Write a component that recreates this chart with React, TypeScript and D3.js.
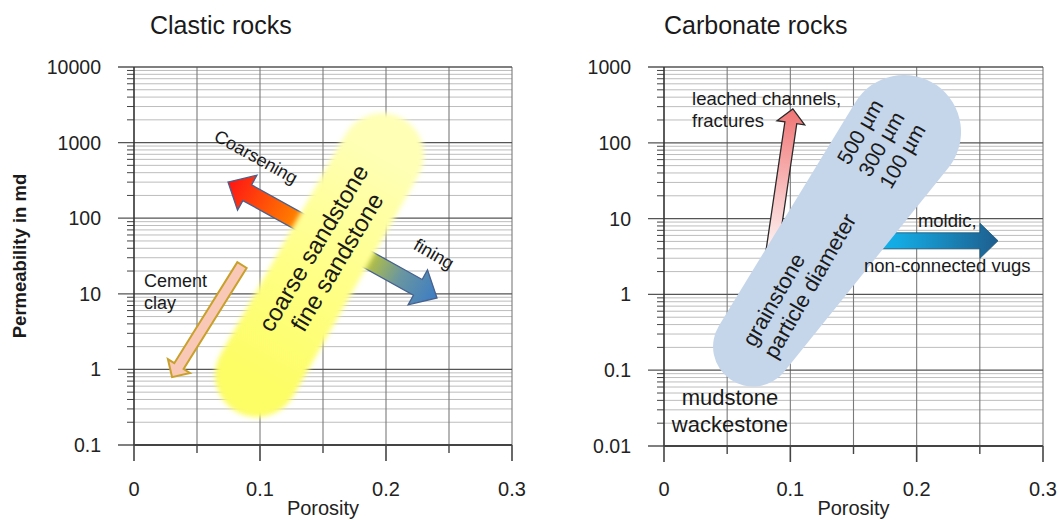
import React from 'react';
import * as d3 from 'd3';

// ---------- data ----------
const porosityMajorTicks = [0, 0.1, 0.2, 0.3];
const porosityMinorTicks = [0.05, 0.15, 0.25];
const porosityTickLabels = ['0', '0.1', '0.2', '0.3'];

const clasticPermTicks = [0.1, 1, 10, 100, 1000, 10000];
const clasticPermLabels = ['0.1', '1', '10', '100', '1000', '10000'];
const carbonatePermTicks = [0.01, 0.1, 1, 10, 100, 1000];
const carbonatePermLabels = ['0.01', '0.1', '1', '10', '100', '1000'];

// clastic annotations: [porosity, permeability md]
const sandstoneBand = [[0.0976, 0.84], [0.1968, 686]];
const grainSizeArrow = [[0.0746, 301], [0.2405, 8.8]]; // coarsening tip -> fining tip
const cementArrow = [[0.0857, 24], [0.0302, 0.79]]; // tail -> tip
const sandstoneLabelPos = [0.1516, 32.6];
const sandstoneLabels = ['coarse sandstone', 'fine sandstone'];
const coarseningPos = [0.0968, 646];
const finingPos = [0.238, 33.6];
const cementPos = [[0.0079, 12.3], [0.0079, 6.3]];
const cementLabels = ['Cement', 'clay'];

// carbonate annotations
const grainstoneBand = [[0.0705, 0.205], [0.19, 139]];
const leachedArrow = [[0.0839, 2.46], [0.102, 280]];
const moldicArrow = [[0.147, 5.1], [0.2644, 5.1]];
const grainstonePos = [0.0665, 0.22];
const grainstoneLabels = ['grainstone', 'particle diameter'];
const diameterPos = [0.1718, 96.8];
const diameterLabels = ['500 µm', '300 µm', '100 µm'];
const leachedPos = [[0.0222, 316], [0.0222, 162]];
const leachedLabels = ['leached channels,', 'fractures'];
const moldicPos = [0.201, 7.8];
const vugsPos = [0.1583, 1.99];
const mudPos = [[0.0522, 0.0352], [0.0522, 0.0155]];
const mudLabels = ['mudstone', 'wackestone'];

const FONT = '"Liberation Sans", Arial, Helvetica, sans-serif';

// ---------- helpers ----------
type P = [number, number];

function arrowPath(a: P, b: P, sw: number, hw: number, hl: number, double: boolean) {
  const dx = b[0] - a[0], dy = b[1] - a[1];
  const L = Math.hypot(dx, dy);
  const ux = dx / L, uy = dy / L, nx = -uy, ny = ux;
  const pt = (s: number, t: number): P => [a[0] + ux * s + nx * t, a[1] + uy * s + ny * t];
  const pts: P[] = double
    ? [pt(0, 0), pt(hl, -hw / 2), pt(hl, -sw / 2), pt(L - hl, -sw / 2), pt(L - hl, -hw / 2), pt(L, 0),
       pt(L - hl, hw / 2), pt(L - hl, sw / 2), pt(hl, sw / 2), pt(hl, hw / 2)]
    : [pt(0, -sw / 2), pt(L - hl, -sw / 2), pt(L - hl, -hw / 2), pt(L, 0), pt(L - hl, hw / 2),
       pt(L - hl, sw / 2), pt(0, sw / 2)];
  return d3.line().curve(d3.curveLinearClosed)(pts) as string;
}

function hullPath(c1: P, r1: number, c2: P, r2: number) {
  const dx = c2[0] - c1[0], dy = c2[1] - c1[1];
  const d = Math.hypot(dx, dy);
  const phi = Math.atan2(dy, dx);
  const al = Math.acos((r1 - r2) / d);
  const at = (c: P, r: number, ang: number): P => [c[0] + r * Math.cos(ang), c[1] + r * Math.sin(ang)];
  const p1a = at(c1, r1, phi + al), p2a = at(c2, r2, phi + al);
  const p2b = at(c2, r2, phi - al), p1b = at(c1, r1, phi - al);
  const large2 = 2 * al > Math.PI ? 1 : 0;
  const large1 = 2 * Math.PI - 2 * al > Math.PI ? 1 : 0;
  return `M${p1a[0]},${p1a[1]}L${p2a[0]},${p2a[1]}A${r2},${r2} 0 ${large2} 0 ${p2b[0]},${p2b[1]}` +
    `L${p1b[0]},${p1b[1]}A${r1},${r1} 0 ${large1} 0 ${p1a[0]},${p1a[1]}Z`;
}

function Grid({ x, y, permTicks, permLabels }: any) {
  const [x0, x1] = x.range();
  const [yb, yt] = y.range();
  const minor: number[] = [];
  for (let i = 0; i < permTicks.length - 1; i++) {
    for (let m = 2; m <= 9; m++) minor.push(permTicks[i] * m);
  }
  const vlines = [...porosityMinorTicks, ...porosityMajorTicks.slice(1)];
  return (
    <g>
      {minor.map((v, i) => (
        <line key={'mn' + i} x1={x0} x2={x1} y1={y(v)} y2={y(v)} stroke="#bdbdbd" strokeWidth={1} />
      ))}
      {vlines.map((v, i) => (
        <line key={'v' + i} x1={x(v)} x2={x(v)} y1={yt} y2={yb} stroke="#7a7a7a" strokeWidth={1.1} />
      ))}
      {permTicks.map((v: number, i: number) => (
        <line key={'mj' + i} x1={x0 - 16} x2={x1} y1={y(v)} y2={y(v)} stroke="#555" strokeWidth={1.3} />
      ))}
      {minor.map((v, i) => (
        <line key={'mt' + i} x1={x0 - 7} x2={x0} y1={y(v)} y2={y(v)} stroke="#444" strokeWidth={1} />
      ))}
      <line x1={x0} x2={x0} y1={yt} y2={yb} stroke="#333" strokeWidth={1.6} />
      <line x1={x0} x2={x1} y1={yb} y2={yb} stroke="#444" strokeWidth={2} />
      {porosityMajorTicks.map((v, i) => (
        <line key={'xt' + i} x1={x(v)} x2={x(v)} y1={yb} y2={yb + 16} stroke="#444" strokeWidth={1.6} />
      ))}
      {porosityMinorTicks.map((v, i) => (
        <line key={'xm' + i} x1={x(v)} x2={x(v)} y1={yb} y2={yb + 8} stroke="#444" strokeWidth={1.4} />
      ))}
      {porosityMajorTicks.map((v, i) => (
        <text key={'xl' + i} x={x(v)} y={496} textAnchor="middle" fontSize={20} fill="#222" fontFamily={FONT}>
          {porosityTickLabels[i]}
        </text>
      ))}
      {permTicks.map((v: number, i: number) => (
        <text key={'yl' + i} x={x0 - 33} y={y(v) + 7} textAnchor="end" fontSize={19.5} fill="#222" fontFamily={FONT}>
          {permLabels[i]}
        </text>
      ))}
      <text x={(x0 + x1) / 2} y={515} textAnchor="middle" fontSize={20} fill="#222" fontFamily={FONT}>Porosity</text>
    </g>
  );
}

function RotLines({ pos, angle, lines, size, lh, anchor, centered }: any) {
  const n = lines.length;
  return (
    <g transform={`translate(${pos[0]},${pos[1]}) rotate(${angle})`}>
      {lines.map((s: string, i: number) => (
        <text key={i} x={0} y={(centered ? i - (n - 1) / 2 : i) * lh} textAnchor={anchor}
          dominantBaseline="central" fontSize={size} fill="#1a1a1a" fontFamily={FONT}>{s}</text>
      ))}
    </g>
  );
}

export default function App() {
  const xL = d3.scaleLinear().domain([0, 0.3]).range([134, 512]);
  const yL = d3.scaleLog().domain([0.1, 10000]).range([445, 67]);
  const xR = d3.scaleLinear().domain([0, 0.3]).range([664, 1043]);
  const yR = d3.scaleLog().domain([0.01, 1000]).range([446, 67]);

  const pL = (d: number[]): P => [xL(d[0]), yL(d[1])];
  const pR = (d: number[]): P => [xR(d[0]), yR(d[1])];

  const sb1 = pL(sandstoneBand[0]), sb2 = pL(sandstoneBand[1]);
  const ga = pL(grainSizeArrow[0]), gb = pL(grainSizeArrow[1]);
  const ca = pL(cementArrow[0]), cb = pL(cementArrow[1]);
  const gs1 = pR(grainstoneBand[0]), gs2 = pR(grainstoneBand[1]);
  const la = pR(leachedArrow[0]), lb = pR(leachedArrow[1]);
  const ma = pR(moldicArrow[0]), mb = pR(moldicArrow[1]);

  return (
    <svg width={1060} height={520} style={{ position: 'absolute', left: 0, top: 0, background: '#fff' }}>
      <defs>
        <linearGradient id="grainGrad" gradientUnits="userSpaceOnUse" x1={ga[0]} y1={ga[1]} x2={gb[0]} y2={gb[1]}>
          <stop offset="0" stopColor="#ff1414" />
          <stop offset="0.3" stopColor="#ff7800" />
          <stop offset="0.5" stopColor="#f2cc10" />
          <stop offset="0.68" stopColor="#b4c042" />
          <stop offset="0.82" stopColor="#6a96a0" />
          <stop offset="1" stopColor="#3c7cc4" />
        </linearGradient>
        <linearGradient id="sandGrad" gradientUnits="userSpaceOnUse" x1={sb1[0]} y1={sb1[1]} x2={sb2[0]} y2={sb2[1]}>
          <stop offset="0" stopColor="#fdfd66" />
          <stop offset="0.5" stopColor="#ffff8a" />
          <stop offset="1" stopColor="#ffffb6" />
        </linearGradient>
        <filter id="soft" x="-30%" y="-30%" width="160%" height="160%">
          <feGaussianBlur stdDeviation="2.6" />
        </filter>
        <linearGradient id="leachGrad" gradientUnits="userSpaceOnUse" x1={la[0]} y1={la[1]} x2={lb[0]} y2={lb[1]}>
          <stop offset="0" stopColor="#ffffff" />
          <stop offset="0.45" stopColor="#f9c2c2" />
          <stop offset="1" stopColor="#f07474" />
        </linearGradient>
        <linearGradient id="moldGrad" gradientUnits="userSpaceOnUse" x1={ma[0]} y1={ma[1]} x2={mb[0]} y2={mb[1]}>
          <stop offset="0" stopColor="#10c0f8" />
          <stop offset="0.35" stopColor="#14a8e0" />
          <stop offset="1" stopColor="#1e5e8e" />
        </linearGradient>
      </defs>

      {/* Titles */}
      <text x={150} y={34} fontSize={25} fill="#1a1a1a" fontFamily={FONT}>Clastic rocks</text>
      <text x={664} y={34} fontSize={25} fill="#1a1a1a" fontFamily={FONT}>Carbonate rocks</text>
      <text transform="translate(19,256) rotate(-90)" textAnchor="middle" dominantBaseline="central"
        fontSize={18.5} fontWeight="bold" fill="#1a1a1a" fontFamily={FONT}>Permeability in md</text>

      {/* Clastic panel */}
      <Grid x={xL} y={yL} permTicks={clasticPermTicks} permLabels={clasticPermLabels} />
      <path d={arrowPath(ga, gb, 18, 40, 22, true)} fill="url(#grainGrad)" stroke="#46618f" strokeWidth={1.3} />
      <path d={arrowPath(ca, cb, 11, 26, 13, false)} fill="#f9c8b6" stroke="#c8a02a" strokeWidth={2} />
      <path d={hullPath(sb1, 42, sb2, 42)} fill="url(#sandGrad)" filter="url(#soft)" />
      <RotLines pos={pL(sandstoneLabelPos)} angle={-59} lines={sandstoneLabels} size={24} lh={27.5} anchor="middle" centered />
      <RotLines pos={pL(coarseningPos)} angle={29} lines={['Coarsening']} size={18} lh={0} anchor="middle" centered />
      <RotLines pos={pL(finingPos)} angle={30} lines={['fining']} size={18} lh={0} anchor="middle" centered />
      {cementLabels.map((s, i) => {
        const p = pL(cementPos[i]);
        return <text key={s} x={p[0]} y={p[1]} fontSize={18} fill="#1a1a1a" fontFamily={FONT}>{s}</text>;
      })}

      {/* Carbonate panel */}
      <Grid x={xR} y={yR} permTicks={carbonatePermTicks} permLabels={carbonatePermLabels} />
      <path d={arrowPath(la, lb, 12, 28, 14, false)} fill="url(#leachGrad)" stroke="#2a2a2a" strokeWidth={1.3} />
      <path d={arrowPath(ma, mb, 16, 35, 18, false)} fill="url(#moldGrad)" stroke="#1d5878" strokeWidth={0.8} />
      <path d={hullPath(gs1, 40, gs2, 57)} fill="#c5d6eb" />
      <RotLines pos={pR(grainstonePos)} angle={-60} lines={grainstoneLabels} size={22} lh={24.5} anchor="start" />
      <RotLines pos={pR(diameterPos)} angle={-60} lines={diameterLabels} size={21} lh={24.4} anchor="middle" centered />
      {leachedLabels.map((s, i) => {
        const p = pR(leachedPos[i]);
        return <text key={s} x={p[0]} y={p[1]} fontSize={18.5} fill="#1a1a1a" fontFamily={FONT}>{s}</text>;
      })}
      {(() => { const p = pR(moldicPos); return <text x={p[0]} y={p[1]} fontSize={18.5} fill="#1a1a1a" fontFamily={FONT}>moldic,</text>; })()}
      {(() => { const p = pR(vugsPos); return <text x={p[0]} y={p[1]} fontSize={18.5} fill="#1a1a1a" fontFamily={FONT}>non-connected vugs</text>; })()}
      {mudLabels.map((s, i) => {
        const p = pR(mudPos[i]);
        return <text key={s} x={p[0]} y={p[1]} textAnchor="middle" fontSize={22} fill="#1a1a1a" fontFamily={FONT}>{s}</text>;
      })}
    </svg>
  );
}
